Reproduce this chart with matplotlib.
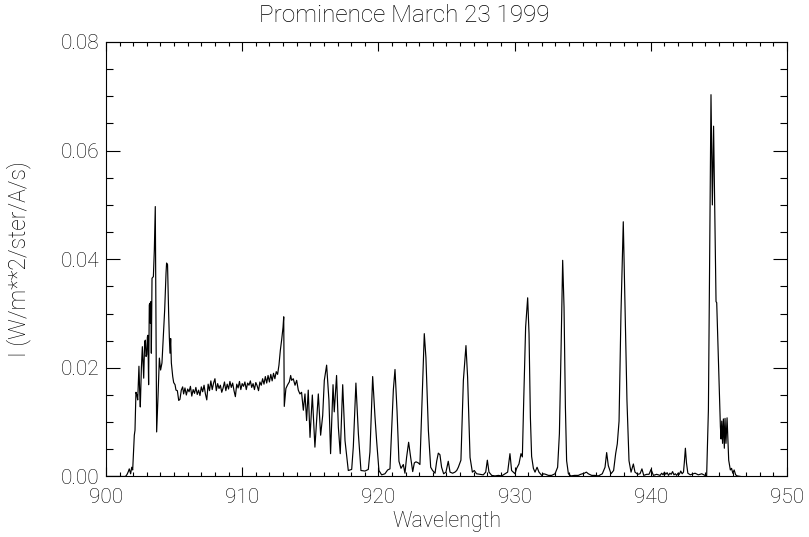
import numpy as np
import matplotlib
matplotlib.use("Agg")
import matplotlib.pyplot as plt
from matplotlib.ticker import MultipleLocator, FormatStrFormatter

plt.rcParams['font.family'] = ['Roboto', 'DejaVu Sans']
plt.rcParams['font.weight'] = 'light'
plt.rcParams['axes.labelweight'] = 'light'

# blue edge of the Lyman continuum with the two first lines
wl_edge = [900.0, 901.40, 901.47, 901.55, 901.64, 901.71, 901.81, 901.89, 901.96, 902.03,
           902.08, 902.13, 902.20, 902.27, 902.33, 902.42, 902.47, 902.52, 902.60, 902.67,
           902.72, 902.77, 902.84, 902.89, 902.94, 902.99, 903.04, 903.08, 903.13, 903.18,
           903.23, 903.26, 903.30, 903.33, 903.38, 903.48, 903.55, 903.62, 903.67, 903.72,
           903.82, 903.92, 904.01, 904.11, 904.21, 904.31, 904.41, 904.45, 904.52, 904.60,
           904.65, 904.70, 904.75, 904.80, 904.90, 904.97, 905.07, 905.14, 905.24, 905.34,
           905.43, 905.53, 905.63]
i_edge = [0.0, 0.0, 0.0001, 0.0004, 0.0009, 0.0014, 0.0005, 0.0017, 0.0012, 0.0049,
          0.0076, 0.0085, 0.0155, 0.0150, 0.0141, 0.0203, 0.0160, 0.0128, 0.0200, 0.0239,
          0.0210, 0.0181, 0.0248, 0.0251, 0.0221, 0.0224, 0.0257, 0.0260, 0.0169, 0.0316,
          0.0319, 0.0282, 0.0322, 0.0227, 0.0365, 0.0368, 0.0417, 0.0497, 0.0282, 0.0082,
          0.0147, 0.0218, 0.0196, 0.0209, 0.0257, 0.0307, 0.0375, 0.0393, 0.0390, 0.0301,
          0.0257, 0.0227, 0.0254, 0.0209, 0.0184, 0.0173, 0.0169, 0.0159, 0.0158, 0.0140,
          0.0142, 0.0159, 0.0165]

# continuum plateau up to the head of the series
wl_cont = [905.7, 905.8, 905.9, 906.0, 906.1, 906.2, 906.3, 906.4, 906.5, 906.6,
           906.7, 906.8, 906.9, 907.0, 907.1, 907.2, 907.3, 907.4, 907.5, 907.6,
           907.7, 907.8, 907.9, 908.0, 908.1, 908.2, 908.3, 908.4, 908.5, 908.6,
           908.7, 908.8, 908.9, 909.0, 909.1, 909.2, 909.3, 909.4, 909.5, 909.6,
           909.7, 909.8, 909.9, 910.0, 910.1, 910.2, 910.3, 910.4, 910.5, 910.6,
           910.7, 910.8, 910.9, 911.0, 911.1, 911.2, 911.3, 911.4, 911.5, 911.6,
           911.7, 911.8, 911.9, 912.0, 912.1, 912.2, 912.3, 912.4, 912.5, 912.6,
           912.7, 912.8, 912.9, 913.0, 913.05]
i_cont = [0.0152, 0.0163, 0.0150, 0.0161, 0.0156, 0.0166, 0.0148, 0.0160, 0.0153, 0.0164,
          0.0151, 0.0159, 0.0149, 0.0165, 0.0156, 0.0168, 0.0152, 0.0141, 0.0170, 0.0158,
          0.0176, 0.0160, 0.0172, 0.0180, 0.0158, 0.0171, 0.0162, 0.0168, 0.0155, 0.0163,
          0.0174, 0.0158, 0.0170, 0.0161, 0.0175, 0.0164, 0.0172, 0.0158, 0.0147, 0.0170,
          0.0163, 0.0175, 0.0160, 0.0171, 0.0166, 0.0174, 0.0160, 0.0172, 0.0168, 0.0176,
          0.0164, 0.0171, 0.0160, 0.0173, 0.0167, 0.0158, 0.0174, 0.0168, 0.0180, 0.0170,
          0.0184, 0.0172, 0.0186, 0.0174, 0.0188, 0.0176, 0.0190, 0.0180, 0.0193, 0.0188,
          0.0205, 0.0232, 0.0252, 0.0275, 0.0294]

# Lyman series lines 913 - 930
wl_mid = [913.09, 913.21, 913.34, 913.46, 913.56, 913.63, 913.75, 913.88, 914.00, 914.12,
          914.24, 914.36, 914.49, 914.61, 914.73, 914.85, 914.98, 915.15, 915.34, 915.59,
          915.76, 915.91, 916.03, 916.20, 916.37, 916.49, 916.67, 916.76, 916.93, 917.06,
          917.20, 917.38, 917.55, 917.79, 918.04, 918.16, 918.35, 918.53, 918.72, 919.02,
          919.26, 919.38, 919.58, 919.75, 919.87, 920.04, 920.24, 920.48, 920.68, 920.85,
          920.97, 921.10, 921.22, 921.37, 921.51, 921.66, 921.83, 921.95, 922.07, 922.22,
          922.37, 922.52, 922.64, 922.76, 922.93, 923.05, 923.18, 923.37, 923.49, 923.67,
          923.84, 923.98, 924.16, 924.28, 924.40, 924.52, 924.64, 924.79, 924.96, 925.13,
          925.26, 925.45, 925.62, 925.75, 925.87, 926.06, 926.24, 926.43, 926.55, 926.73,
          926.90, 927.04, 927.21, 927.46, 927.70, 927.88, 928.00, 928.12, 928.32, 928.56,
          928.81, 929.05, 929.30, 929.49, 929.66, 929.78]
i_mid = [0.0129, 0.0162, 0.0169, 0.0174, 0.0186, 0.0177, 0.0180, 0.0168, 0.0177, 0.0159,
         0.0152, 0.0155, 0.0122, 0.0152, 0.0103, 0.0159, 0.0072, 0.0150, 0.0054, 0.0152,
         0.0076, 0.0112, 0.0177, 0.0205, 0.0140, 0.0042, 0.0169, 0.0119, 0.0186, 0.0091,
         0.0042, 0.0169, 0.0066, 0.0011, 0.0013, 0.0055, 0.0172, 0.0079, 0.0011, 0.0010,
         0.0013, 0.0045, 0.0184, 0.0110, 0.0066, 0.0011, 0.0003, 0.0005, 0.0012, 0.0014,
         0.0085, 0.0160, 0.0197, 0.0120, 0.0028, 0.0015, 0.0022, 0.0006, 0.0035, 0.0063,
         0.0035, 0.0009, 0.0025, 0.0027, 0.0025, 0.0022, 0.0122, 0.0263, 0.0219, 0.0085,
         0.0017, 0.0011, 0.0006, 0.0028, 0.0043, 0.0040, 0.0017, 0.0005, 0.0008, 0.0028,
         0.0008, 0.0006, 0.0008, 0.0011, 0.0017, 0.0030, 0.0177, 0.0241, 0.0183, 0.0035,
         0.0008, 0.0011, 0.0005, 0.0004, 0.0003, 0.0008, 0.0030, 0.0008, 0.0002, 0.0001,
         0.0002, 0.0001, 0.0005, 0.0008, 0.0042, 0.0011]

# red part 930 - 947
wl_red = [930.03, 930.15, 930.32, 930.47, 930.57, 930.67, 930.81, 930.96, 931.06, 931.16,
          931.25, 931.38, 931.50, 931.65, 931.79, 931.99, 932.13, 932.28, 932.48, 932.72,
          932.97, 933.16, 933.29, 933.41, 933.53, 933.63, 933.73, 933.82, 933.95, 934.14,
          934.39, 934.68, 934.85, 934.99, 935.12, 935.27, 935.41, 935.66, 935.90, 936.15,
          936.44, 936.64, 936.76, 936.88, 937.08, 937.27, 937.42, 937.54, 937.67, 937.81,
          937.98, 938.10, 938.25, 938.40, 938.55, 938.72, 938.84, 939.04, 939.21, 939.35,
          939.48, 939.70, 939.87, 940.02, 940.19, 940.43, 940.68, 940.8, 940.9, 941.0,
          941.1, 941.2, 941.3, 941.4, 941.5, 941.6, 941.7, 941.8, 941.9, 942.0,
          942.1, 942.2, 942.3, 942.4, 942.46, 942.54, 942.62, 942.72, 942.9, 943.0,
          943.25, 943.49, 943.74, 943.98, 944.10, 944.23, 944.42, 944.52, 944.61, 944.79,
          944.84, 945.01, 945.11, 945.16, 945.21, 945.27, 945.33, 945.40, 945.45, 945.52,
          945.60, 945.66, 945.72, 945.84, 945.93, 946.02, 946.12, 946.23, 946.35, 946.6]
i_red = [0.0005, 0.0015, 0.0023, 0.0042, 0.0036, 0.0140, 0.0275, 0.0329, 0.0263, 0.0109,
         0.0037, 0.0015, 0.0008, 0.0017, 0.0008, 0.0002, 0.0005, 0.0004, 0.0002, 0.0002,
         0.0005, 0.0017, 0.0079, 0.0232, 0.0398, 0.0312, 0.0128, 0.0029, 0.0005, 0.0001,
         0.0002, 0.0002, 0.0004, 0.0005, 0.0006, 0.0008, 0.0005, 0.0002, 0.0002, 0.0001,
         0.0005, 0.0017, 0.0044, 0.0020, 0.0005, 0.0011, 0.0042, 0.0060, 0.0102, 0.0300,
         0.0469, 0.0324, 0.0140, 0.0029, 0.0008, 0.0023, 0.0008, 0.0004, 0.0005, 0.0014,
         0.0002, 0.0004, 0.0004, 0.0013, 0.0002, 0.0004, 0.0002, 0.0006, 0.0003, 0.0008,
         0.0004, 0.0007, 0.0002, 0.0006, 0.0004, 0.0009, 0.0003, 0.0005, 0.0002, 0.0006,
         0.0004, 0.0010, 0.0005, 0.0008, 0.0025, 0.0052, 0.0025, 0.0006, 0.0003, 0.0004,
         0.0006, 0.0003, 0.0005, 0.0002, 0.0001, 0.0123, 0.0703, 0.0500, 0.0645, 0.0322,
         0.0320, 0.0172, 0.0092, 0.0069, 0.0102, 0.0061, 0.0106, 0.0052, 0.0107, 0.0061,
         0.0108, 0.0070, 0.0030, 0.0012, 0.0015, 0.0006, 0.0012, 0.0003, 0.0001, 0.0]

wl = np.concatenate([wl_edge, wl_cont, wl_mid, wl_red])
inten = np.concatenate([i_edge, i_cont, i_mid, i_red])

fig = plt.figure(figsize=(8.09, 5.37), dpi=100)
ax = fig.add_axes([0.131, 0.1127, 0.8418, 0.8091])
ax.plot(wl, inten, color='black', lw=0.85)

ax.set_xlim(900, 950)
ax.set_ylim(0, 0.08)
ax.xaxis.set_major_locator(MultipleLocator(10))
ax.xaxis.set_minor_locator(MultipleLocator(1))
ax.yaxis.set_major_locator(MultipleLocator(0.02))
ax.yaxis.set_minor_locator(MultipleLocator(0.005))
ax.yaxis.set_major_formatter(FormatStrFormatter('%.2f'))

ax.tick_params(axis='both', which='both', direction='in', top=True, right=True,
               width=0.8, labelsize=15, colors='black')
ax.tick_params(axis='x', which='major', length=6.3, pad=8)
ax.tick_params(axis='x', which='minor', length=3.1)
ax.tick_params(axis='y', which='major', length=9.8, pad=5)
ax.tick_params(axis='y', which='minor', length=4.9)
for s in ax.spines.values():
    s.set_linewidth(0.8)

# title sits over the middle of the whole figure
fig.text(0.5, 0.972, 'Prominence March 23 1999', fontsize=17.5, ha='center', va='center')
ax.set_xlabel('Wavelength', fontsize=15.5, labelpad=3)
ax.set_ylabel('I (W/m**2/ster/A/s)', fontsize=16.5, labelpad=21)

fig.savefig('out.png', dpi=100)
